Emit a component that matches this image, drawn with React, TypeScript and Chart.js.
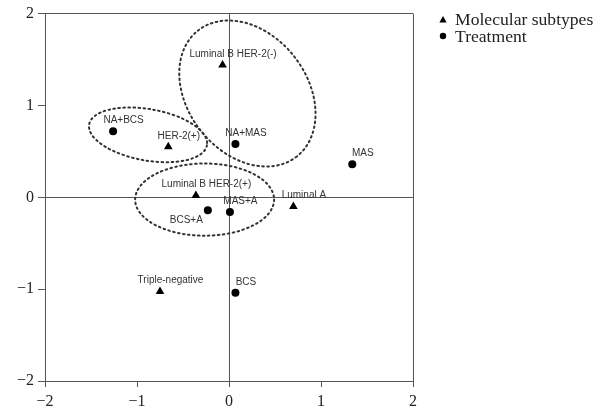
import React, { useEffect, useRef } from 'react';
import { Chart, registerables } from 'chart.js';

Chart.register(...registerables);

// ---- data ----
const subtypeNames = ['Luminal B HER-2(-)', 'HER-2(+)', 'Luminal B HER-2(+)', 'Luminal A', 'Triple-negative'];
const subtypeX = [-0.07, -0.66, -0.36, 0.70, -0.75];
const subtypeY = [1.44, 0.55, 0.02, -0.10, -1.025];

const treatmentNames = ['NA+BCS', 'NA+MAS', 'MAS', 'BCS+A', 'MAS+A', 'BCS'];
const treatmentX = [-1.26, 0.07, 1.34, -0.23, 0.01, 0.07];
const treatmentY = [0.72, 0.58, 0.36, -0.14, -0.16, -1.04];

const axisTicks = [-2, -1, 0, 1, 2];
const legendLabels = ['Molecular subtypes', 'Treatment'];

// dotted grouping ellipses (data units)
const ellipseCX = [0.20, -0.88, -0.265];
const ellipseCY = [1.13, 0.68, -0.025];
const ellipseRX = [0.87, 0.65, 0.755];
const ellipseRY = [0.65, 0.28, 0.393];
const ellipseRot = [52, 10, 0];

// ---- styles ----
const SERIF = '"Liberation Serif", "DejaVu Serif", serif';
const SANS = '"Liberation Sans", Arial, sans-serif';
const AXIS_COLOR = '#555';
const LABEL_DX = 10.5;
const LABEL_DY = -11;
const SPECIAL_OFFSETS: Record<string, [number, number]> = { 'BCS+A': [-21.5, 10] };

const fmt = (v: number) => (v < 0 ? '\u2212' + Math.abs(v) : String(v));

const overlayPlugin = {
  id: 'overlay',
  beforeDatasetsDraw(chart: any) {
    const { ctx } = chart;
    const xs = chart.scales.x;
    const ys = chart.scales.y;
    const pxX = xs.getPixelForValue(1) - xs.getPixelForValue(0);
    const pxY = ys.getPixelForValue(0) - ys.getPixelForValue(1);
    ctx.save();
    ctx.strokeStyle = '#333';
    ctx.lineWidth = 2;
    ctx.setLineDash([1.6, 3.4]);
    ctx.lineCap = 'round';
    for (let i = 0; i < ellipseCX.length; i++) {
      ctx.beginPath();
      ctx.ellipse(
        xs.getPixelForValue(ellipseCX[i]),
        ys.getPixelForValue(ellipseCY[i]),
        ellipseRX[i] * pxX,
        ellipseRY[i] * pxY,
        (ellipseRot[i] * Math.PI) / 180,
        0,
        Math.PI * 2
      );
      ctx.stroke();
    }
    ctx.restore();
  },
  afterDatasetsDraw(chart: any) {
    const { ctx } = chart;
    const xs = chart.scales.x;
    const ys = chart.scales.y;
    ctx.save();
    ctx.font = `10px ${SANS}`;
    ctx.fillStyle = '#333';
    ctx.textAlign = 'center';
    ctx.textBaseline = 'middle';
    const drawLabels = (names: string[], xv: number[], yv: number[]) => {
      names.forEach((n, i) => {
        const off = SPECIAL_OFFSETS[n] || [LABEL_DX, LABEL_DY];
        ctx.fillText(n, xs.getPixelForValue(xv[i]) + off[0], ys.getPixelForValue(yv[i]) + off[1]);
      });
    };
    drawLabels(subtypeNames, subtypeX, subtypeY);
    drawLabels(treatmentNames, treatmentX, treatmentY);

    // legend
    const lx = chart.chartArea.right + 30;
    const ly = [20, 37];
    ctx.fillStyle = '#000';
    ctx.beginPath();
    ctx.moveTo(lx, ly[0] - 4);
    ctx.lineTo(lx + 3.6, ly[0] + 2.5);
    ctx.lineTo(lx - 3.6, ly[0] + 2.5);
    ctx.closePath();
    ctx.fill();
    ctx.beginPath();
    ctx.arc(lx, ly[1] - 1, 3.2, 0, Math.PI * 2);
    ctx.fill();
    ctx.font = `17.6px ${SERIF}`;
    ctx.fillStyle = '#222';
    ctx.textAlign = 'left';
    ctx.textBaseline = 'middle';
    legendLabels.forEach((t, i) => ctx.fillText(t, lx + 12, ly[i]));
    ctx.restore();
  },
};

export default function App() {
  const ref = useRef<HTMLCanvasElement | null>(null);
  useEffect(() => {
    if (!ref.current) return;
    const gridColor = (c: any) => (c.tick && (c.tick.value === 0 || c.tick.value === 2) ? AXIS_COLOR : 'rgba(0,0,0,0)');
    const scaleOpts = (isX: boolean) => ({
      type: 'linear' as const,
      min: -2,
      max: 2,
      afterBuildTicks: (s: any) => {
        s.ticks = axisTicks.map((v) => ({ value: v }));
      },
      afterFit: (s: any) => {
        if (isX) s.height = 37;
        else s.width = 45;
      },
      grid: {
        color: gridColor,
        tickColor: AXIS_COLOR,
        drawTicks: true,
        tickLength: isX ? 6 : 7,
        lineWidth: 1,
      },
      border: { display: true, color: AXIS_COLOR, width: 1 },
      ticks: {
        callback: (v: any) => fmt(Number(v)),
        font: { family: SERIF, size: 16 },
        color: '#222',
        padding: isX ? 5 : 4,
        maxRotation: 0,
        autoSkip: false,
      },
    });
    const chart = new Chart(ref.current, {
      type: 'scatter',
      data: {
        datasets: [
          {
            label: legendLabels[0],
            data: subtypeX.map((x, i) => ({ x, y: subtypeY[i] })),
            pointStyle: 'triangle',
            pointRadius: 5,
            backgroundColor: '#000',
            borderColor: '#000',
            borderWidth: 0,
          },
          {
            label: legendLabels[1],
            data: treatmentX.map((x, i) => ({ x, y: treatmentY[i] })),
            pointStyle: 'circle',
            pointRadius: 4,
            backgroundColor: '#000',
            borderColor: '#000',
            borderWidth: 0,
          },
        ],
      },
      options: {
        responsive: false,
        animation: false,
        devicePixelRatio: 1,
        layout: { padding: { top: 13, right: 190, left: 0, bottom: 0 } },
        plugins: { legend: { display: false }, tooltip: { enabled: false } },
        scales: { x: scaleOpts(true), y: scaleOpts(false) },
      },
      plugins: [overlayPlugin],
    } as any);
    return () => chart.destroy();
  }, []);
  return (
    <div style={{ position: 'absolute', left: 0, top: 0, width: 603, height: 418, background: '#fff' }}>
      <canvas ref={ref} width={603} height={418} style={{ width: 603, height: 418, display: 'block' }} />
    </div>
  );
}
